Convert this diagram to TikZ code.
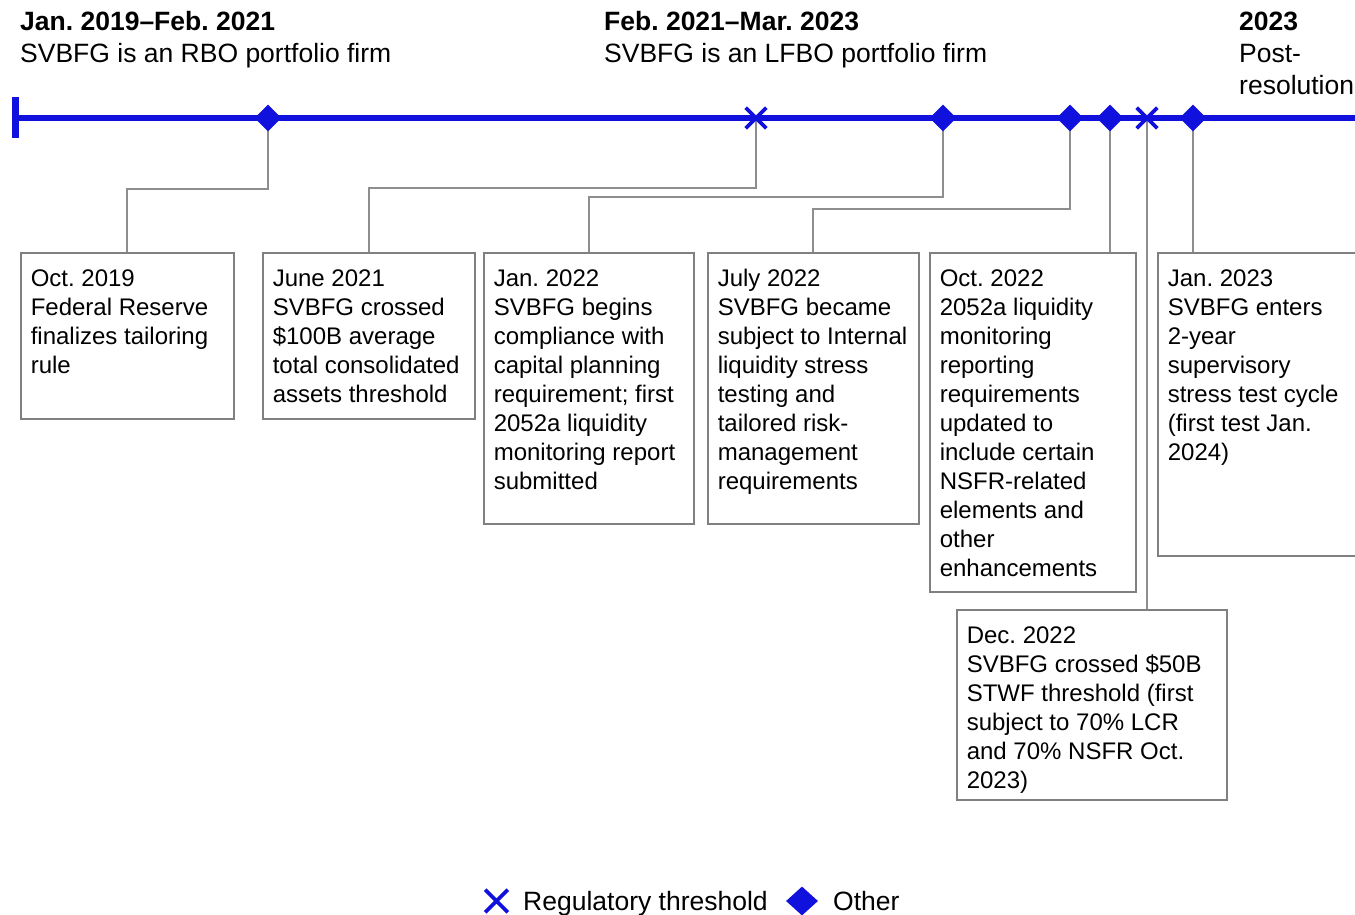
\documentclass[tikz,border=0pt]{standalone}
\usepackage{fontspec}
\setmainfont{Liberation Sans}
\frenchspacing
\usetikzlibrary{shapes.geometric,shapes.misc}
\definecolor{tlblue}{RGB}{17,17,221}
\definecolor{boxgray}{RGB}{128,128,128}
\definecolor{conngray}{RGB}{142,142,142}
\newcommand{\evtext}[3]{\parbox[t][#2pt][t]{#1pt}{\raggedright\leftskip=10pt\relax\rule{0pt}{34pt}#3}}
\tikzset{
  every node/.style={font=\fontsize{24}{29}\selectfont},
  bigtext/.style={font=\fontsize{26.5}{32}\selectfont},
  evbox/.style={draw=boxgray, line width=1.6pt, inner sep=0pt, anchor=north west},
  conn/.style={draw=conngray, line width=2pt},
  other/.style={diamond, fill=tlblue, inner sep=0pt, minimum width=27pt, minimum height=27pt},
  regth/.style={cross out, draw=tlblue, line width=3.6pt, inner sep=0pt, minimum size=17pt},
  hdr/.style={inner sep=0pt, anchor=base west, bigtext},
}
\begin{document}
\begin{tikzpicture}[x=1pt,y=-1pt]
\useasboundingbox (0,0) rectangle (1355,915);
% headers
\node[hdr] (h1) at (20,30.5) {\parbox[t]{420pt}{\textbf{Jan. 2019–Feb. 2021}\\SVBFG is an RBO portfolio firm}};
\node[hdr] (h2) at (604,30.5) {\parbox[t]{420pt}{\textbf{Feb. 2021–Mar. 2023}\\SVBFG is an LFBO portfolio firm}};
\node[hdr] (h3) at (1239,30.5) {\parbox[t]{200pt}{\textbf{2023}\\Post-\\resolution}};
% timeline
\coordinate (tstart) at (15,118);
\coordinate (tend) at (1358,118);
\coordinate (tickt) at (15,97);
\coordinate (tickb) at (15,138);
\draw[tlblue, line width=5.6pt] (tstart) -- (tend);
\draw[tlblue, line width=7pt] (tickt) -- (tickb);
% boxes
\node[evbox] (b1) at (20,252) {\evtext{213}{166}{Oct. 2019\\Federal Reserve\\finalizes tailoring\\rule}};
\node[evbox] (b2) at (262,252) {\evtext{212}{166}{June 2021\\SVBFG crossed\\\$100B average\\total consolidated\\assets threshold}};
\node[evbox] (b3) at (483,252) {\evtext{210}{271}{Jan. 2022\\SVBFG begins\\compliance with\\capital planning\\requirement; first\\2052a liquidity\\monitoring report\\submitted}};
\node[evbox] (b4) at (707,252) {\evtext{211}{271}{July 2022\\SVBFG became\\subject to Internal\\liquidity stress\\testing and\\tailored risk-\\management\\requirements}};
\node[evbox] (b5) at (929,252) {\evtext{206}{339}{Oct. 2022\\2052a liquidity\\monitoring\\reporting\\requirements\\updated to\\include certain\\NSFR-related\\elements and\\other\\enhancements}};
\node[evbox] (b6) at (956,609) {\evtext{270}{190}{Dec. 2022\\SVBFG crossed \$50B\\STWF threshold (first\\subject to 70\% LCR\\and 70\% NSFR Oct.\\2023)}};
\node[evbox] (b7) at (1157,252) {\evtext{205}{303}{Jan. 2023\\SVBFG enters\\2-year\\supervisory\\stress test cycle\\(first test Jan.\\2024)}};
% marker positions
\coordinate (p1) at (268,118);
\coordinate (p2) at (756,118);
\coordinate (p3) at (943,118);
\coordinate (p4) at (1070,118);
\coordinate (p5) at (1110,118);
\coordinate (p6) at (1147,118);
\coordinate (p7) at (1193,118);
% connectors
\draw[conn] (p1) -- ++(0,71) -| (b1.north);
\draw[conn] (p2) -- ++(0,70) -| (b2.north);
\draw[conn] (p3) -- ++(0,79) -| (b3.north);
\draw[conn] (p4) -- ++(0,91) -| (b4.north);
\draw[conn] (p5) -- (p5 |- b5.north);
\draw[conn] (p6) -- (p6 |- b6.north);
\draw[conn] (p7) -- (p7 |- b7.north);
% markers
\node[other] (m1) at (p1) {};
\node[regth] (m2) at (p2) {};
\node[other] (m3) at (p3) {};
\node[other] (m4) at (p4) {};
\node[other] (m5) at (p5) {};
\node[regth] (m6) at (p6) {};
\node[other] (m7) at (p7) {};
% legend
\node[regth, minimum size=19pt] (lx) at (496.5,901) {};
\node[hdr] (lxt) at (523,910) {Regulatory threshold};
\node[other, minimum width=32pt, minimum height=29pt] (ld) at (802,901) {};
\node[hdr] (ldt) at (833,910) {Other};
\end{tikzpicture}
\end{document}
